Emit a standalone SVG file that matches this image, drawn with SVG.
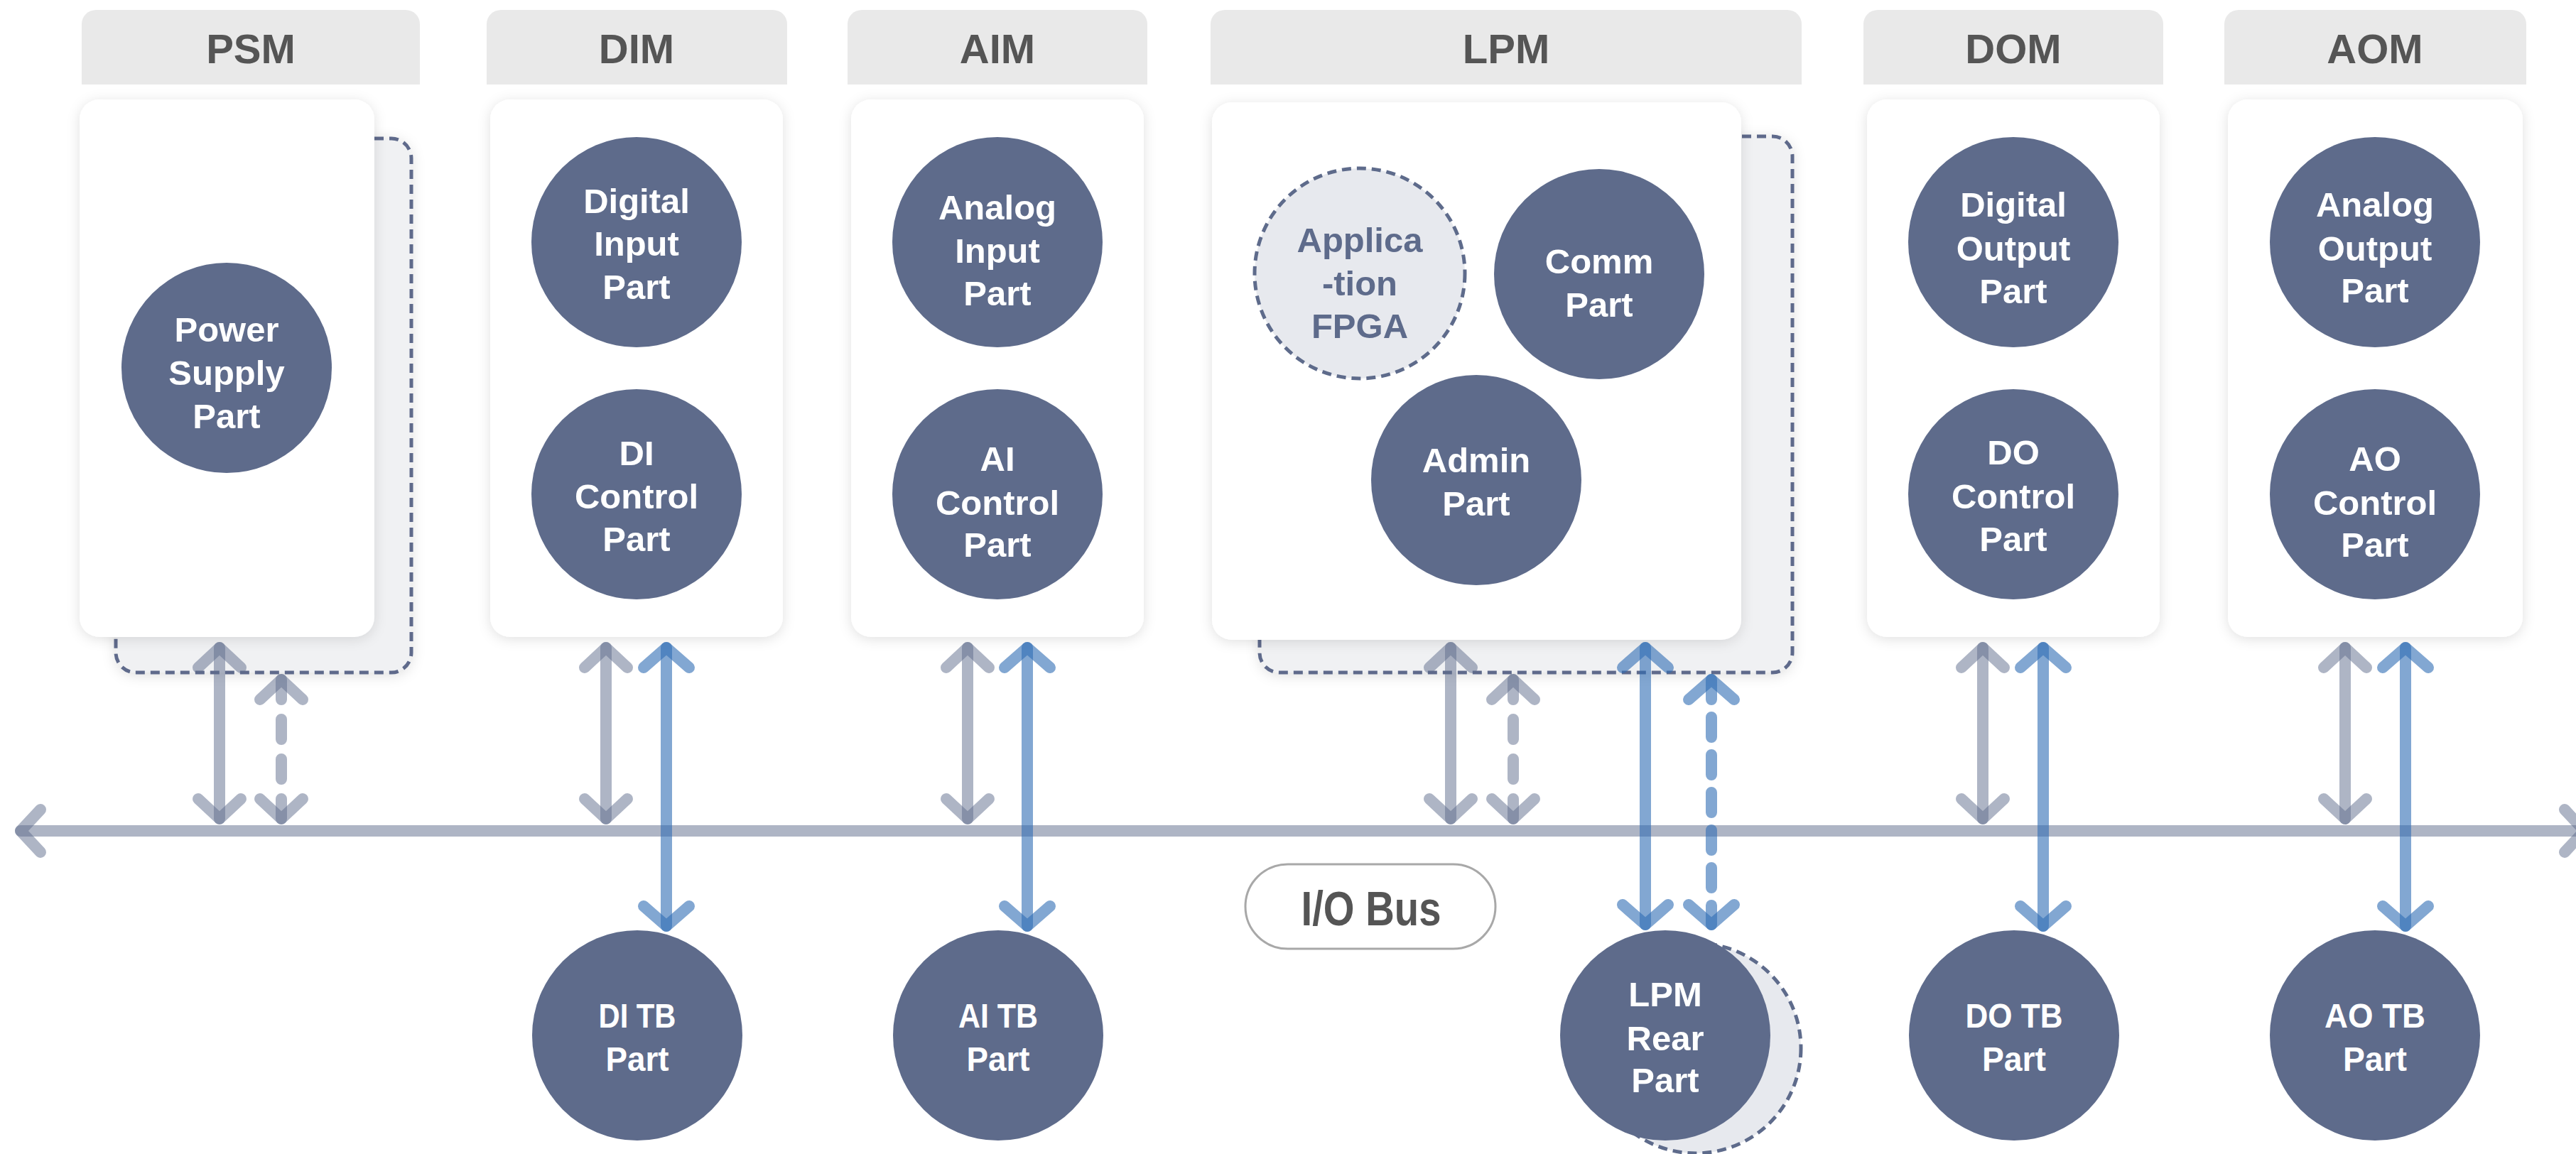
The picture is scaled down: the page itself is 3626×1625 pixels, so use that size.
<svg xmlns="http://www.w3.org/2000/svg" width="3626" height="1625" viewBox="0 0 3626 1625">
<style>
.hdr{fill:#e9e9e9}
.ttl{font-family:"Liberation Sans",Arial,sans-serif;font-weight:bold;font-size:58px;fill:#555555;text-anchor:middle}
.card{fill:#ffffff;filter:url(#sh)}
.back{fill:#f0f1f3;stroke:#5e6b8b;stroke-width:5;stroke-dasharray:13 8;filter:url(#sh)}
.node{fill:#5e6b8b}
.dnode{fill:#e7e9ee;stroke:#5e6b8b;stroke-width:5;stroke-dasharray:13 8}
.lbl{font-family:"Liberation Sans",Arial,sans-serif;font-weight:bold;font-size:49px;fill:#ffffff;text-anchor:middle}
.dlbl{fill:#5e6b8b}
.g{stroke:#5e6b8b;stroke-opacity:0.5;stroke-width:16;stroke-linecap:round;fill:none;marker-start:url(#ag);marker-end:url(#ag)}
.b{stroke:#2e6db4;stroke-opacity:0.6;stroke-width:16;stroke-linecap:round;fill:none;marker-start:url(#ab);marker-end:url(#ab)}
.gd{stroke-dasharray:28 28}
.bd{stroke-dasharray:28 25}
.pill{fill:#ffffff;stroke:#a8a8a8;stroke-width:3}
.bus{font-family:"Liberation Sans",Arial,sans-serif;font-weight:bold;font-size:68px;fill:#555555;text-anchor:middle}
</style>
<defs>
<filter id="sh" x="-10%" y="-10%" width="120%" height="120%">
<feDropShadow dx="0" dy="3" stdDeviation="9" flood-color="#000000" flood-opacity="0.12"/>
</filter>
<marker id="ag" markerUnits="userSpaceOnUse" orient="auto-start-reverse" viewBox="-50 -50 60 100" refX="0" refY="0" markerWidth="60" markerHeight="100" overflow="visible">
<path d="M-28,-30 L0,0 L-28,30" fill="none" stroke="#5e6b8b" stroke-opacity="0.5" stroke-width="16" stroke-linecap="round" stroke-linejoin="round"/>
</marker>
<marker id="ab" markerUnits="userSpaceOnUse" orient="auto-start-reverse" viewBox="-50 -50 60 100" refX="0" refY="0" markerWidth="60" markerHeight="100" overflow="visible">
<path d="M-28,-32 L0,0 L-28,32" fill="none" stroke="#2e6db4" stroke-opacity="0.6" stroke-width="16" stroke-linecap="round" stroke-linejoin="round"/>
</marker>
</defs>
<rect width="3626" height="1625" fill="#ffffff"/>

<g id="PSM">
<path class="hdr" d="M115,119 V34 A20,20 0 0 1 135,14 H571 A20,20 0 0 1 591,34 V119 Z"/>
<text class="ttl" x="353" y="89">PSM</text>
<rect class="back" x="163" y="195" width="416" height="752" rx="28"/>
<rect class="card" x="112" y="140" width="415" height="757" rx="28"/>
<g id="power-supply-part">
<circle class="node" cx="319" cy="518" r="148"/>
<text class="lbl" x="319" y="481">Power</text>
<text class="lbl" x="319" y="542">Supply</text>
<text class="lbl" x="319" y="603">Part</text>
</g>
</g>

<g id="DIM">
<path class="hdr" d="M685,119 V34 A20,20 0 0 1 705,14 H1088 A20,20 0 0 1 1108,34 V119 Z"/>
<text class="ttl" x="896" y="89">DIM</text>
<rect class="card" x="690" y="140" width="412" height="757" rx="28"/>
<g id="digital-input-part">
<circle class="node" cx="896" cy="341" r="148"/>
<text class="lbl" x="896" y="300">Digital</text>
<text class="lbl" x="896" y="360">Input</text>
<text class="lbl" x="896" y="421">Part</text>
</g>
<g id="di-control-part">
<circle class="node" cx="896" cy="696" r="148"/>
<text class="lbl" x="896" y="655">DI</text>
<text class="lbl" x="896" y="716">Control</text>
<text class="lbl" x="896" y="776">Part</text>
</g>
</g>

<g id="AIM">
<path class="hdr" d="M1193,119 V34 A20,20 0 0 1 1213,14 H1595 A20,20 0 0 1 1615,34 V119 Z"/>
<text class="ttl" x="1404" y="89">AIM</text>
<rect class="card" x="1198" y="140" width="412" height="757" rx="28"/>
<g id="analog-input-part">
<circle class="node" cx="1404" cy="341" r="148"/>
<text class="lbl" x="1404" y="309">Analog</text>
<text class="lbl" x="1404" y="370">Input</text>
<text class="lbl" x="1404" y="430">Part</text>
</g>
<g id="ai-control-part">
<circle class="node" cx="1404" cy="696" r="148"/>
<text class="lbl" x="1404" y="663">AI</text>
<text class="lbl" x="1404" y="725">Control</text>
<text class="lbl" x="1404" y="784">Part</text>
</g>
</g>

<g id="LPM">
<path class="hdr" d="M1704,119 V34 A20,20 0 0 1 1724,14 H2516 A20,20 0 0 1 2536,34 V119 Z"/>
<text class="ttl" x="2120" y="89">LPM</text>
<rect class="back" x="1773" y="192" width="750" height="755" rx="28"/>
<rect class="card" x="1706" y="144" width="745" height="757" rx="28"/>
<g id="application-fpga">
<circle class="dnode" cx="1914" cy="385" r="148"/>
<text class="lbl dlbl" x="1914" y="355">Applica</text>
<text class="lbl dlbl" x="1914" y="416">-tion</text>
<text class="lbl dlbl" x="1914" y="476">FPGA</text>
</g>
<g id="comm-part">
<circle class="node" cx="2251" cy="386" r="148"/>
<text class="lbl" x="2251" y="385">Comm</text>
<text class="lbl" x="2251" y="446">Part</text>
</g>
<g id="admin-part">
<circle class="node" cx="2078" cy="676" r="148"/>
<text class="lbl" x="2078" y="665">Admin</text>
<text class="lbl" x="2078" y="726">Part</text>
</g>
</g>

<g id="DOM">
<path class="hdr" d="M2623,119 V34 A20,20 0 0 1 2643,14 H3025 A20,20 0 0 1 3045,34 V119 Z"/>
<text class="ttl" x="2834" y="89">DOM</text>
<rect class="card" x="2628" y="140" width="412" height="757" rx="28"/>
<g id="digital-output-part">
<circle class="node" cx="2834" cy="341" r="148"/>
<text class="lbl" x="2834" y="305">Digital</text>
<text class="lbl" x="2834" y="367">Output</text>
<text class="lbl" x="2834" y="427">Part</text>
</g>
<g id="do-control-part">
<circle class="node" cx="2834" cy="696" r="148"/>
<text class="lbl" x="2834" y="654">DO</text>
<text class="lbl" x="2834" y="716">Control</text>
<text class="lbl" x="2834" y="776">Part</text>
</g>
</g>

<g id="AOM">
<path class="hdr" d="M3131,119 V34 A20,20 0 0 1 3151,14 H3536 A20,20 0 0 1 3556,34 V119 Z"/>
<text class="ttl" x="3343" y="89">AOM</text>
<rect class="card" x="3136" y="140" width="415" height="757" rx="28"/>
<g id="analog-output-part">
<circle class="node" cx="3343" cy="341" r="148"/>
<text class="lbl" x="3343" y="305">Analog</text>
<text class="lbl" x="3343" y="367">Output</text>
<text class="lbl" x="3343" y="426">Part</text>
</g>
<g id="ao-control-part">
<circle class="node" cx="3343" cy="696" r="148"/>
<text class="lbl" x="3343" y="663">AO</text>
<text class="lbl" x="3343" y="725">Control</text>
<text class="lbl" x="3343" y="784">Part</text>
</g>
</g>

<g id="di-tb-part">
<circle class="node" cx="897" cy="1458" r="148"/>
<text class="lbl" x="897" y="1447" textLength="109" lengthAdjust="spacingAndGlyphs">DI TB</text>
<text class="lbl" x="897" y="1508" textLength="89" lengthAdjust="spacingAndGlyphs">Part</text>
</g>
<g id="ai-tb-part">
<circle class="node" cx="1405" cy="1458" r="148"/>
<text class="lbl" x="1405" y="1447" textLength="112" lengthAdjust="spacingAndGlyphs">AI TB</text>
<text class="lbl" x="1405" y="1508" textLength="89" lengthAdjust="spacingAndGlyphs">Part</text>
</g>
<g id="lpm-rear-part">
<circle class="dnode" cx="2387" cy="1476" r="148"/>
<circle class="node" cx="2344" cy="1458" r="148"/>
<text class="lbl" x="2344" y="1417">LPM</text>
<text class="lbl" x="2344" y="1479">Rear</text>
<text class="lbl" x="2344" y="1538">Part</text>
</g>
<g id="do-tb-part">
<circle class="node" cx="2835" cy="1458" r="148"/>
<text class="lbl" x="2835" y="1447" textLength="137" lengthAdjust="spacingAndGlyphs">DO TB</text>
<text class="lbl" x="2835" y="1508" textLength="90" lengthAdjust="spacingAndGlyphs">Part</text>
</g>
<g id="ao-tb-part">
<circle class="node" cx="3343" cy="1458" r="148"/>
<text class="lbl" x="3343" y="1447" textLength="142" lengthAdjust="spacingAndGlyphs">AO TB</text>
<text class="lbl" x="3343" y="1508" textLength="90" lengthAdjust="spacingAndGlyphs">Part</text>
</g>

<g id="connectors">
<path class="g" d="M29,1170 H3638"/>
<path class="g" d="M309,912 V1153"/>
<path class="g gd" d="M396,957 V1153"/>
<path class="g" d="M853,912 V1153"/>
<path class="b" d="M938,912 V1304"/>
<path class="g" d="M1362,912 V1153"/>
<path class="b" d="M1446,912 V1304"/>
<path class="g" d="M2042,912 V1153"/>
<path class="g gd" d="M2130,957 V1153"/>
<path class="b" d="M2316,912 V1302"/>
<path class="b bd" d="M2409,957 V1302"/>
<path class="g" d="M2791,912 V1153"/>
<path class="b" d="M2876,912 V1304"/>
<path class="g" d="M3301,912 V1153"/>
<path class="b" d="M3386,912 V1304"/>
</g>

<g id="io-bus-label">
<rect class="pill" x="1753" y="1217" width="352" height="119" rx="59.5"/>
<text class="bus" x="1930" y="1303" textLength="197" lengthAdjust="spacingAndGlyphs">I/O Bus</text>
</g>
</svg>
